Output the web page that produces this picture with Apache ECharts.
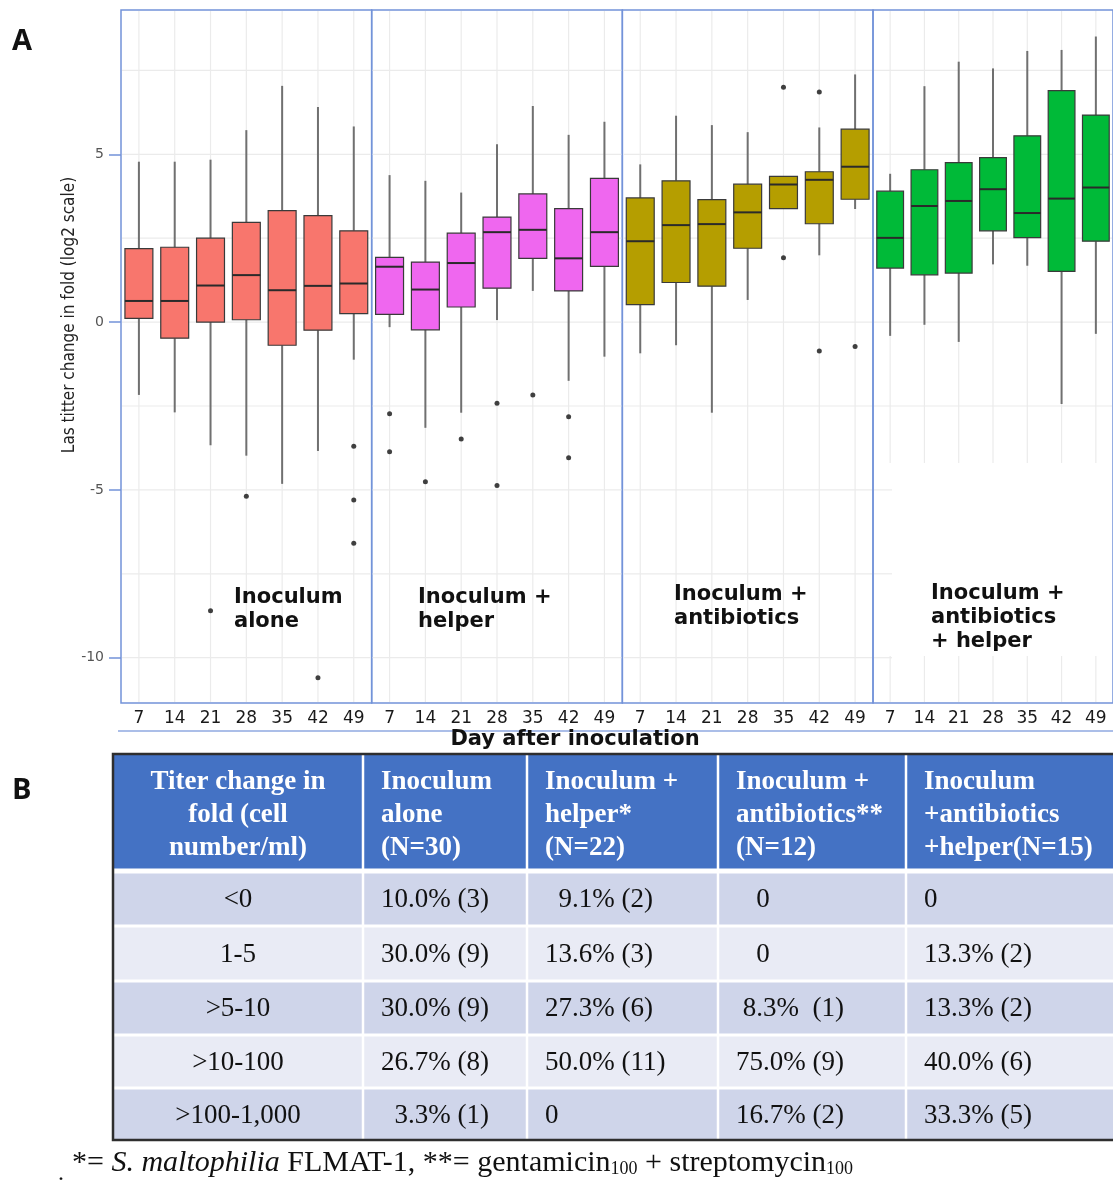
<!DOCTYPE html>
<html>
<head>
  <meta charset="utf-8">
  <title>Las titer change</title>
  <script src="https://cdn.jsdelivr.net/npm/echarts@6.0.0/dist/echarts.min.js"></script>
  <style>
    body { margin: 0; background: #fff; overflow: hidden; }
  </style>
</head>
<body>
  <div id="main" style="width:1113px;height:1184px;"></div>
  <script type="text/javascript">
    // days after inoculation
    var days = ['7', '14', '21', '28', '35', '42', '49'];
    var yTicks = [-10, -5, 0, 5];
    var yGrid = [-10, -7.5, -5, -2.5, 0, 2.5, 5, 7.5];

    // [low, Q1, median, Q3, high] per day
    var aloneBox = [
      [-2.17, 0.11, 0.63, 2.19, 4.78],
      [-2.69, -0.48, 0.63, 2.23, 4.78],
      [-3.67, 0.0, 1.09, 2.50, 4.84],
      [-3.98, 0.07, 1.40, 2.97, 5.72],
      [-4.82, -0.69, 0.95, 3.32, 7.04],
      [-3.84, -0.24, 1.08, 3.17, 6.41],
      [-1.12, 0.25, 1.15, 2.72, 5.83]
    ];
    var helperBox = [
      [-0.15, 0.23, 1.65, 1.93, 4.38],
      [-3.15, -0.23, 0.97, 1.79, 4.21],
      [-2.70, 0.45, 1.76, 2.65, 3.86],
      [0.06, 1.01, 2.68, 3.13, 5.30],
      [0.93, 1.90, 2.75, 3.82, 6.44],
      [-1.75, 0.93, 1.90, 3.38, 5.58],
      [-1.03, 1.66, 2.68, 4.28, 5.97]
    ];
    var antibioticsBox = [
      [-0.93, 0.52, 2.41, 3.70, 4.70],
      [-0.69, 1.18, 2.89, 4.21, 6.15],
      [-2.70, 1.07, 2.92, 3.65, 5.87],
      [0.66, 2.20, 3.27, 4.11, 5.66],
      [3.38, 3.38, 4.10, 4.34, 4.34],
      [1.99, 2.93, 4.24, 4.48, 5.80],
      [3.37, 3.66, 4.63, 5.75, 7.38]
    ];
    var bothBox = [
      [-0.41, 1.61, 2.51, 3.90, 4.42],
      [-0.08, 1.41, 3.46, 4.54, 7.03],
      [-0.59, 1.46, 3.61, 4.75, 7.76],
      [1.72, 2.72, 3.96, 4.90, 7.56],
      [1.68, 2.52, 3.25, 5.55, 8.08],
      [-2.44, 1.51, 3.68, 6.90, 8.11],
      [-0.35, 2.41, 4.01, 6.17, 8.51]
    ];

    // outliers: [day index, value]
    var aloneOut = [[2, -8.6], [3, -5.19], [5, -10.6], [6, -3.70], [6, -5.30], [6, -6.59]];
    var helperOut = [[0, -2.73], [0, -3.86], [1, -4.76], [2, -3.48], [3, -2.42], [3, -4.87], [4, -2.17], [5, -2.82], [5, -4.04]];
    var antibioticsOut = [[4, 7.0], [4, 1.92], [5, 6.86], [5, -0.86], [6, -0.73]];
    var bothOut = [];

    var groupLabels = ['Inoculum\nalone', 'Inoculum +\nhelper', 'Inoculum +\nantibiotics', 'Inoculum +\nantibiotics\n+ helper'];

    // table B
    var tableHead = [
      ['Titer change in', 'fold (cell', 'number/ml)'],
      ['Inoculum', 'alone', '(N=30)'],
      ['Inoculum +', 'helper*', '(N=22)'],
      ['Inoculum +', 'antibiotics**', '(N=12)'],
      ['Inoculum', '+antibiotics', '+helper(N=15)']
    ];
    var foldClasses = ['<0', '1-5', '>5-10', '>10-100', '>100-1,000'];
    var pctAlone = ['10.0% (3)', '30.0% (9)', '30.0% (9)', '26.7% (8)', '  3.3% (1)'];
    var pctHelper = ['  9.1% (2)', '13.6% (3)', '27.3% (6)', '50.0% (11)', '0'];
    var pctAntibiotics = ['   0', '   0', ' 8.3%  (1)', '75.0% (9)', '16.7% (2)'];
    var pctBoth = ['0', '13.3% (2)', '13.3% (2)', '40.0% (6)', '33.3% (5)'];

    var boxes = [aloneBox, helperBox, antibioticsBox, bothBox];
    var outs = [aloneOut, helperOut, antibioticsOut, bothOut];
    var colors = ['#F8766D', '#EF67EF', '#B59E00', '#00BA38'];
    var panelW = 250.67;
    var blue = '#7393D9';

    var myChart = echarts.init(document.getElementById('main'));

    function renderBox(params, api) {
      var idx = api.value(0);
      var lo = api.coord([idx, api.value(1)]);
      var q1 = api.coord([idx, api.value(2)]);
      var md = api.coord([idx, api.value(3)]);
      var q3 = api.coord([idx, api.value(4)]);
      var hi = api.coord([idx, api.value(5)]);
      var bw = api.size([1, 0])[0] * 0.78;
      var x = md[0];
      var wStyle = { stroke: '#707070', lineWidth: 2 };
      return {
        type: 'group',
        children: [
          { type: 'line', shape: { x1: x, y1: hi[1], x2: x, y2: q3[1] }, style: wStyle },
          { type: 'line', shape: { x1: x, y1: q1[1], x2: x, y2: lo[1] }, style: wStyle },
          { type: 'rect', shape: { x: x - bw / 2, y: q3[1], width: bw, height: q1[1] - q3[1] },
            style: { fill: api.visual('color'), stroke: '#3a3a3a', lineWidth: 1.2 } },
          { type: 'line', shape: { x1: x - bw / 2, y1: md[1], x2: x + bw / 2, y2: md[1] },
            style: { stroke: '#2a2a2a', lineWidth: 2 } }
        ]
      };
    }

    // faint grid lines; the last panel has a blank patch behind its label
    function gridRenderer(cut) {
      return function (params, api) {
        var cs = params.coordSys;
        var gs = { stroke: '#EBEBEB', lineWidth: 1.2 };
        if (api.value(0) === 0) {
          var y = api.coord([0, api.value(1)])[1];
          var x2 = (cut && api.value(1) < -4.2) ? cs.x + 19 : cs.x + cs.width - 1;
          return { type: 'line', shape: { x1: cs.x + 1, y1: y, x2: x2, y2: y }, style: gs };
        }
        var x = api.coord([api.value(1), 0])[0];
        if (!cut) {
          return { type: 'line', shape: { x1: x, y1: cs.y + 1, x2: x, y2: cs.y + cs.height - 1 }, style: gs };
        }
        var ya = api.coord([0, -4.2])[1], yb = api.coord([0, -9.95])[1];
        return { type: 'group', children: [
          { type: 'line', shape: { x1: x, y1: cs.y + 1, x2: x, y2: ya }, style: gs },
          { type: 'line', shape: { x1: x, y1: yb, x2: x, y2: cs.y + cs.height - 1 }, style: gs }
        ] };
      };
    }

    var grids = [], xAxes = [], yAxes = [], series = [];
    for (var i = 0; i < 4; i++) {
      grids.push({ left: 121 + i * panelW, top: 10, width: panelW, height: 693,
        show: true, borderColor: blue, borderWidth: 1.5, backgroundColor: 'transparent' });
      xAxes.push({
        type: 'category', gridIndex: i, data: days,
        axisLine: { show: false }, axisTick: { show: false }, splitLine: { show: false },
        axisLabel: { color: '#1a1a1a', fontSize: 17, fontFamily: 'DejaVu Sans', margin: 7, interval: 0 }
      });
      yAxes.push({
        type: 'value', gridIndex: i, min: -11.35, max: 9.3,
        axisLine: { show: false }, splitLine: { show: false },
        axisTick: { show: i === 0, length: 12, customValues: yTicks, lineStyle: { color: blue, width: 1.5 } },
        axisLabel: { show: i === 0, customValues: yTicks, color: '#555', fontSize: 14, margin: 17, fontFamily: 'DejaVu Sans' }
      });
      var gridData = yGrid.map(function (v) { return [0, v]; })
        .concat(days.map(function (d, k) { return [1, k]; }));
      series.push({
        type: 'custom', xAxisIndex: i, yAxisIndex: i, z: 1, silent: true,
        renderItem: gridRenderer(i === 3), data: gridData
      });
      series.push({
        type: 'custom', name: 'box' + i, xAxisIndex: i, yAxisIndex: i, z: 3,
        itemStyle: { color: colors[i] },
        renderItem: renderBox,
        encode: { x: 0, y: [1, 2, 3, 4, 5] },
        data: boxes[i].map(function (b, k) { return [k].concat(b); })
      });
      series.push({
        type: 'scatter', xAxisIndex: i, yAxisIndex: i, z: 4, symbolSize: 5,
        itemStyle: { color: '#111' }, data: outs[i]
      });
    }

    // panel B table layout
    var colX = [113, 363, 527, 718, 906, 1125];
    var rowY = [754, 870, 925, 980, 1034, 1087, 1140];
    var bodyCols = [foldClasses, pctAlone, pctHelper, pctAntibiotics, pctBoth];
    var serif = '"Liberation Serif", "Times New Roman", serif';
    var g = [];

    g.push({ type: 'rect', shape: { x: colX[0], y: rowY[0], width: colX[5] - colX[0], height: rowY[1] - rowY[0] },
      style: { fill: '#4472C4' } });
    for (var r = 0; r < 5; r++) {
      g.push({ type: 'rect', shape: { x: colX[0], y: rowY[r + 1], width: colX[5] - colX[0], height: rowY[r + 2] - rowY[r + 1] },
        style: { fill: r % 2 === 0 ? '#CFD5EA' : '#E9EBF5' } });
    }
    for (var r2 = 1; r2 < 6; r2++) {
      g.push({ type: 'line', shape: { x1: colX[0], y1: rowY[r2] + 1, x2: colX[5], y2: rowY[r2] + 1 },
        style: { stroke: '#fff', lineWidth: r2 === 1 ? 5 : 3 } });
    }
    for (var c = 1; c < 5; c++) {
      g.push({ type: 'line', shape: { x1: colX[c], y1: rowY[0], x2: colX[c], y2: rowY[6] },
        style: { stroke: '#fff', lineWidth: 2.5 } });
    }
    g.push({ type: 'polyline', shape: { points: [[colX[5], rowY[0]], [colX[0], rowY[0]], [colX[0], rowY[6]], [colX[5], rowY[6]]] },
      style: { stroke: '#2e2e2e', lineWidth: 2.5, fill: null } });

    for (var h = 0; h < 5; h++) {
      g.push({ type: 'text', x: h === 0 ? (colX[0] + colX[1]) / 2 : colX[h] + 18, y: 815,
        style: { text: tableHead[h].join('\n'), fill: '#fff', font: 'bold 27px ' + serif, lineHeight: 33,
          align: h === 0 ? 'center' : 'left', verticalAlign: 'middle' } });
    }
    for (var c2 = 0; c2 < 5; c2++) {
      for (var r3 = 0; r3 < 5; r3++) {
        g.push({ type: 'text', x: c2 === 0 ? (colX[0] + colX[1]) / 2 : colX[c2] + 18, y: (rowY[r3 + 1] + rowY[r3 + 2]) / 2 + 2,
          style: { text: bodyCols[c2][r3], fill: '#111', font: '27px ' + serif,
            align: c2 === 0 ? 'center' : 'left', verticalAlign: 'middle' } });
      }
    }

    g.push({ type: 'text', x: 58, y: 1174, style: { text: '.', fill: '#111', font: '24px ' + serif, verticalAlign: 'middle' } });
    g.push({ type: 'text', x: 72, y: 1163, style: {
      text: '{a|*= }{i|S. maltophilia}{a| FLMAT-1, **= gentamicin}{s|100}{a| + streptomycin}{s|100}',
      verticalAlign: 'middle',
      rich: {
        a: { fontFamily: serif, fontSize: 30, lineHeight: 30, fill: '#111' },
        i: { fontFamily: serif, fontSize: 30, lineHeight: 30, fontStyle: 'italic', fill: '#111' },
        s: { fontFamily: serif, fontSize: 18, lineHeight: 18, verticalAlign: 'bottom', fill: '#111' }
      } } });

    // panel A texts
    var labelX = [234, 418, 674, 931];
    var labelY = [586, 586, 583, 582];
    for (var p = 0; p < 4; p++) {
      g.push({ type: 'text', x: labelX[p], y: labelY[p], z: 10, style: {
        text: groupLabels[p], fill: '#111', font: 'bold 21px "DejaVu Sans", sans-serif', lineHeight: 24,
        verticalAlign: 'top' } });
    }
    g.push({ type: 'text', x: 70, y: 315, rotation: Math.PI / 2, style: {
      text: 'Las titter change in fold (log2 scale)', fill: '#222',
      font: '17px "Liberation Sans Narrow", "DejaVu Sans Condensed", sans-serif',
      align: 'center', verticalAlign: 'middle' } });
    g.push({ type: 'line', shape: { x1: 118, y1: 731, x2: 1113, y2: 731 }, style: { stroke: '#8FA9E0', lineWidth: 1.5 } });
    g.push({ type: 'text', x: 575, y: 740, style: {
      text: 'Day after inoculation', fill: '#111', font: 'bold 21px "DejaVu Sans", sans-serif',
      align: 'center', verticalAlign: 'middle' } });
    g.push({ type: 'text', x: 12, y: 42, style: { text: 'A', fill: '#111', font: 'bold 29px "Open Sans", sans-serif', verticalAlign: 'middle' } });
    g.push({ type: 'text', x: 12, y: 791, style: { text: 'B', fill: '#111', font: 'bold 29px "Open Sans", sans-serif', verticalAlign: 'middle' } });

    var option = {
      animation: false,
      grid: grids,
      xAxis: xAxes,
      yAxis: yAxes,
      series: series,
      graphic: { elements: g }
    };

    myChart.setOption(option);
  </script>
</body>
</html>
